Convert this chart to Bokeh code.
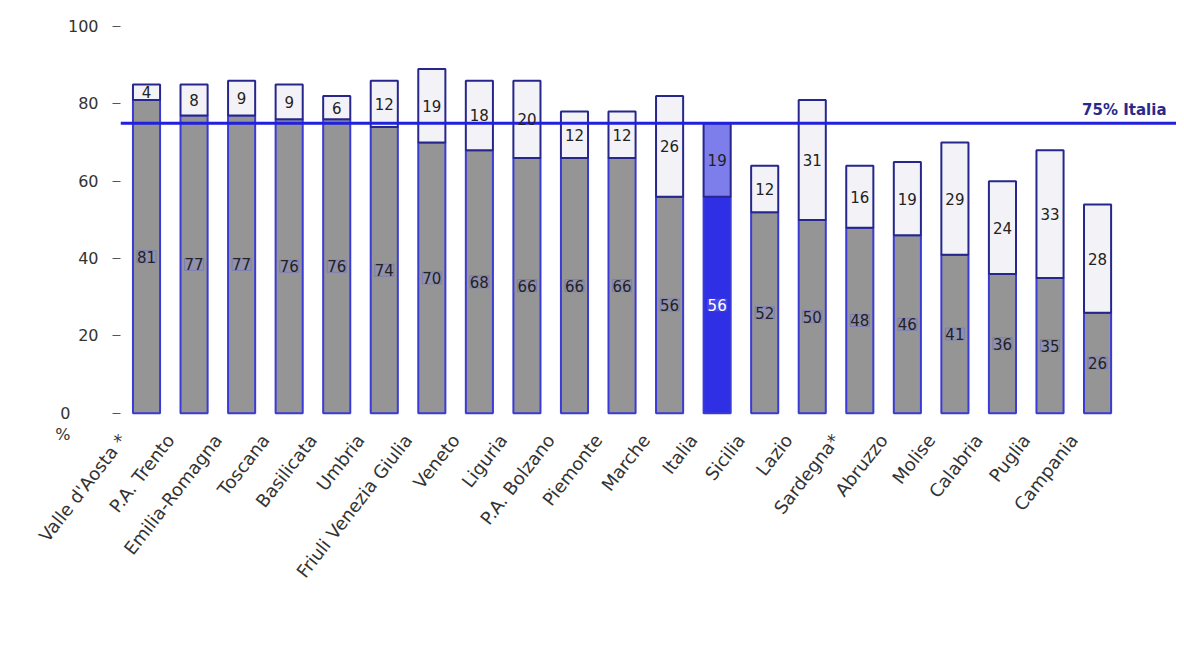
import math
from bokeh.plotting import figure
from bokeh.core.properties import value
from bokeh.models import (ColumnDataSource, FixedTicker, Span, Label, LabelSet,
                          Legend, LegendItem, Range1d, LinearAxis)
from bokeh.embed import file_html
from bokeh.resources import INLINE

regions = ["Valle d'Aosta *", "P.A. Trento", "Emilia-Romagna", "Toscana", "Basilicata",
           "Umbria", "Friuli Venezia Giulia", "Veneto", "Liguria", "P.A. Bolzano",
           "Piemonte", "Marche", "Italia", "Sicilia", "Lazio", "Sardegna*",
           "Abruzzo", "Molise", "Calabria", "Puglia", "Campania"]
inside = [81, 77, 77, 76, 76, 74, 70, 68, 66, 66, 66, 56, 56, 52, 50, 48, 46, 41, 36, 35, 26]
outside = [4, 8, 9, 9, 6, 12, 19, 18, 20, 12, 12, 26, 19, 12, 31, 16, 19, 29, 24, 33, 28]
italia_ref = 75
y_ticks = [0, 20, 40, 60, 80, 100]
legend_labels = ["all'interno screening organizzato", "al di fuori dello screening organizzato"]

FONT = "DejaVu Sans"
TXT = "#333333"
xs = list(range(len(regions)))
is_it = [r == "Italia" for r in regions]
src = ColumnDataSource(dict(
    x=xs,
    inside=inside,
    outside=outside,
    top=[a + b for a, b in zip(inside, outside)],
    in_mid=[a / 2 for a in inside],
    out_mid=[a + b / 2 for a, b in zip(inside, outside)],
    in_lab=[str(v) for v in inside],
    out_lab=[str(v) for v in outside],
    in_fill=["#2f2fe6" if f else "#959595" for f in is_it],
    out_fill=["#7d7dec" if f else "#f3f3f7" for f in is_it],
    in_txt=["#ffffff" if f else "#222222" for f in is_it],
))

X0, X1 = -0.547, 21.66
LAB_SHIFT = 0.50
p = figure(frame_width=1056, frame_height=410, output_backend="svg", toolbar_location=None,
           x_range=Range1d(X0, X1), y_range=Range1d(-6, 100),
           x_axis_location=None,
           min_border_left=120, min_border_right=0, min_border_top=26,
           min_border_bottom=0)
p.extra_x_ranges = {"lab": Range1d(X0 + LAB_SHIFT, X1 + LAB_SHIFT)}
p.outline_line_color = None
p.grid.visible = False
p.background_fill_color = "white"

r_in = p.vbar(x="x", bottom=0, top="inside", width=0.57, source=src,
              fill_color="in_fill", line_color="#3a3ad6", line_width=2)
r_out = p.vbar(x="x", bottom="inside", top="top", width=0.57, source=src,
               fill_color="out_fill", line_color="#26268c", line_width=2)
# invisible renderer only used to indent the legend
r_pad = p.scatter(x=[], y=[], fill_alpha=0, line_alpha=0)

p.add_layout(Span(location=italia_ref, dimension="width", line_color="#2020dd",
                  line_width=3))
p.add_layout(Label(x=21.45, y=italia_ref, y_offset=4, text=f"{italia_ref}% Italia",
                   text_align="right", text_baseline="bottom", text_font=FONT,
                   text_font_size="15px", text_font_style="bold", text_color="#2a2a8c"))

lab_in = LabelSet(x="x", y="in_mid", text="in_lab", source=src, text_align="center",
                  text_baseline="middle", text_font=value(FONT), text_font_size="15px",
                  text_color="in_txt", background_fill_color="#8888ee",
                  background_fill_alpha=0.25, border_line_color="#5555dd",
                  border_line_alpha=0.35)
lab_out = LabelSet(x="x", y="out_mid", text="out_lab", source=src, text_align="center",
                   text_baseline="middle", text_font=value(FONT), text_font_size="15px",
                   text_color="#222222")
p.add_layout(lab_in)
p.add_layout(lab_out)

# main y axis (dashes + labels 20..100)
ya = p.yaxis[0]
ya.ticker = FixedTicker(ticks=y_ticks)
ya.major_label_overrides = {0: " "}
ya.axis_line_color = None
ya.major_tick_in = 0
ya.major_tick_out = 8
ya.major_tick_line_color = "#555555"
ya.minor_tick_line_color = None
ya.major_label_standoff = 14
ya.major_label_text_font = FONT
ya.major_label_text_font_size = "16px"
ya.major_label_text_color = TXT

# outer axis carrying "0" and "%"
ya2 = LinearAxis(ticker=FixedTicker(ticks=[0, -5.5]),
                 major_label_overrides={0: "0", -5.5: "%"},
                 axis_line_color=None, major_tick_line_color=None,
                 minor_tick_line_color=None, major_tick_in=0, major_tick_out=0,
                 major_label_standoff=-6, major_label_text_font=FONT,
                 major_label_text_font_size="16px", major_label_text_color=TXT)
p.add_layout(ya2, "left")

xa = LinearAxis(x_range_name="lab", ticker=FixedTicker(ticks=xs),
                major_label_overrides={i: r for i, r in enumerate(regions)},
                major_label_orientation=0.91,
                axis_line_color=None, major_tick_line_color=None,
                minor_tick_line_color=None, major_tick_in=0, major_tick_out=0,
                major_label_standoff=0, major_label_text_font=FONT,
                major_label_text_font_size="18px", major_label_text_color=TXT)
p.add_layout(xa, "below")

legend = Legend(items=[LegendItem(label="\u00a0" * 12, renderers=[r_pad]),
                       LegendItem(label=legend_labels[0], renderers=[r_in], index=0),
                       LegendItem(label=legend_labels[1], renderers=[r_out], index=0)],
                orientation="horizontal", location="top_left",
                label_text_font=FONT, label_text_font_size="14px", label_text_color=TXT,
                glyph_width=10, glyph_height=10, label_standoff=4, spacing=18,
                padding=0, margin=4, border_line_color=None, background_fill_alpha=0)
p.add_layout(legend, "below")

open("out.html", "w").write(file_html(p, INLINE))
